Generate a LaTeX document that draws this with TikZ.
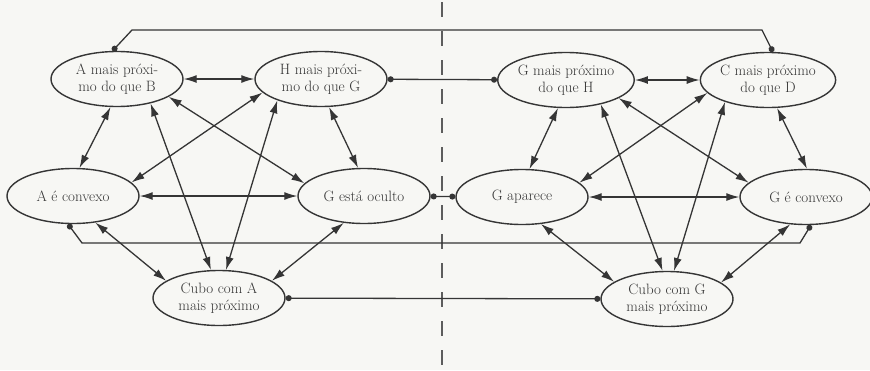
\documentclass[tikz,border=0pt]{standalone}
\usepackage{fontspec}
\usetikzlibrary{shapes.geometric,arrows.meta}
\definecolor{ink}{HTML}{353535}
\definecolor{paper}{HTML}{F7F7F4}
\tikzset{
  elp/.style={draw=ink, ellipse, line width=1.4pt, minimum width=132pt, minimum height=55pt, inner sep=0pt, align=center, text=ink, font=\fontsize{15}{17}\selectfont},
  dbl/.style={draw=ink, line width=1.3pt, {Latex[length=13pt,width=8pt]}-{Latex[length=13pt,width=8pt]}},
  lnk/.style={draw=ink, line width=1.3pt, {Circle[length=6pt]}-{Circle[length=6pt]}}}

\begin{document}
\begin{tikzpicture}[x=1pt, y=-1pt]
\useasboundingbox (0,0) rectangle (870,370);
\fill[paper] (0,0) rectangle (870,370);
\draw[ink!80, line width=1.6pt, dash pattern=on 15pt off 14pt] (442,2) -- (442,370);
% left half
\node[elp] (ab) at (117,79) {A mais próxi-\\mo do que B};
\node[elp] (hg) at (321,79) {H mais próxi-\\mo do que G};
\node[elp] (ac) at (73,196) {A é convexo};
\node[elp] (go) at (364,196) {G está oculto};
\node[elp] (ca) at (219,298) {Cubo com A\\mais próximo};
% right half
\node[elp] (gh) at (566,80) {G mais próximo\\do que H};
\node[elp] (cd) at (768,80) {C mais próximo\\do que D};
\node[elp] (ga) at (522,197) {G aparece};
\node[elp] (gc) at (806,197) {G é convexo};
\node[elp] (cg) at (667,299) {Cubo com G\\mais próximo};
\coordinate (tl) at (132,30);
\coordinate (tr) at (762,30);
\coordinate (bl) at (82,243);
\coordinate (br) at (800,243);
\draw[dbl] (ab) -- (hg);
\draw[dbl] (ab.-103) -- (ac.77);
\draw[dbl] (ab.-36) -- (ca.106);
\draw[dbl] (ab.-19) -- (go.168);
\draw[dbl] (hg.-167) -- (ac.13);
\draw[dbl] (hg.-154) -- (ca.76);
\draw[dbl] (hg.-74) -- (go.102);
\draw[dbl] (ac) -- (go);
\draw[dbl] (ac.-50) -- (ca.162);
\draw[dbl] (go.-127) -- (ca.18);
\draw[dbl] (gh) -- (cd);
\draw[dbl] (gh.-106) -- (ga.75);
\draw[dbl] (gh.-35) -- (cg.99);
\draw[dbl] (gh.-19) -- (gc.166);
\draw[dbl] (cd.-168) -- (ga.14);
\draw[dbl] (cd.-153) -- (cg.76);
\draw[dbl] (cd.-72) -- (gc.88);
\draw[dbl] (ga) -- (gc);
\draw[dbl] (ga.-55) -- (cg.162);
\draw[dbl] (gc.-120) -- (cg.17);
% links across the cut
\draw[lnk] (hg) -- (gh);
\draw[lnk] (go) -- (ga);
\draw[lnk] (ca) -- (cg);
\draw[lnk] (ab.99) -- (tl) -- (tr) -- (cd.80);
\draw[lnk] (ac.-100) -- (bl) -- (br) -- (gc.-80);
\end{tikzpicture}
\end{document}
